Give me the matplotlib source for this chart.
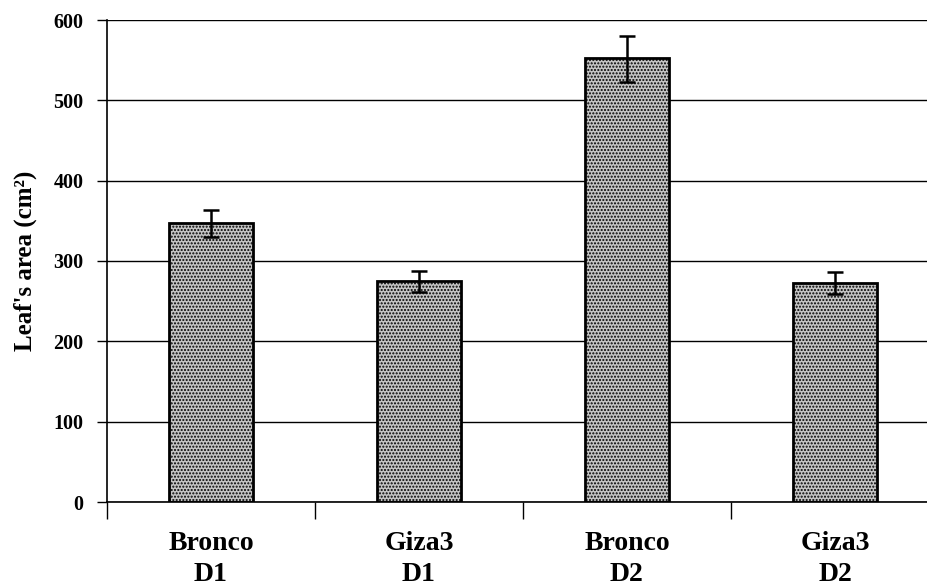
import matplotlib
matplotlib.use("Agg")
import matplotlib.pyplot as plt
import numpy as np

categories = ["Bronco\nD1", "Giza3\nD1", "Bronco\nD2", "Giza3\nD2"]
leaf_area = [347, 275, 553, 273]
err_up = [17, 13, 27, 13]
err_down = [17, 13, 30, 14]

plt.rcParams['font.family'] = ['Liberation Serif', 'DejaVu Serif']
plt.rcParams['hatch.color'] = '#2e2e2e'
plt.rcParams['hatch.linewidth'] = 1.0

fig = plt.figure(figsize=(9.27, 5.86), dpi=100)
ax = fig.add_axes([107 / 927, 1 - 502 / 586, 832 / 927, 482 / 586])

x = np.arange(len(categories))
ax.set_axisbelow(True)
ax.yaxis.grid(True, color='black', linewidth=1.0)
ax.bar(x, leaf_area, width=0.4, facecolor='#c4c4c4', edgecolor='black',
       linewidth=2.0, hatch='.....', zorder=2)
ax.errorbar(x, leaf_area, yerr=[err_down, err_up], fmt='none', ecolor='black',
            elinewidth=1.8, capsize=6, capthick=1.8, zorder=3)

ax.set_xlim(-0.5, len(categories) - 0.5)
ax.set_ylim(0, 600)
ax.set_yticks(range(0, 601, 100))
ax.set_xticks(x)
ax.set_xticklabels(categories, fontsize=20, fontweight='bold', linespacing=1.3)
ax.set_xticks(np.arange(-0.5, len(categories)), minor=True)
ax.tick_params(axis='x', which='major', length=0, pad=21)
ax.tick_params(axis='x', which='minor', length=12, direction='out', width=1)
ax.tick_params(axis='y', length=7, width=1, labelsize=14.5, pad=10)
for lbl in ax.get_yticklabels():
    lbl.set_fontweight('bold')
ax.set_ylabel("Leaf's area (cm²)", fontsize=18, fontweight='bold', labelpad=12)

ax.spines['top'].set_visible(False)
ax.spines['right'].set_visible(False)
ax.spines['left'].set_linewidth(1.2)
ax.spines['bottom'].set_linewidth(1.2)

fig.savefig("out.png", dpi=100)
